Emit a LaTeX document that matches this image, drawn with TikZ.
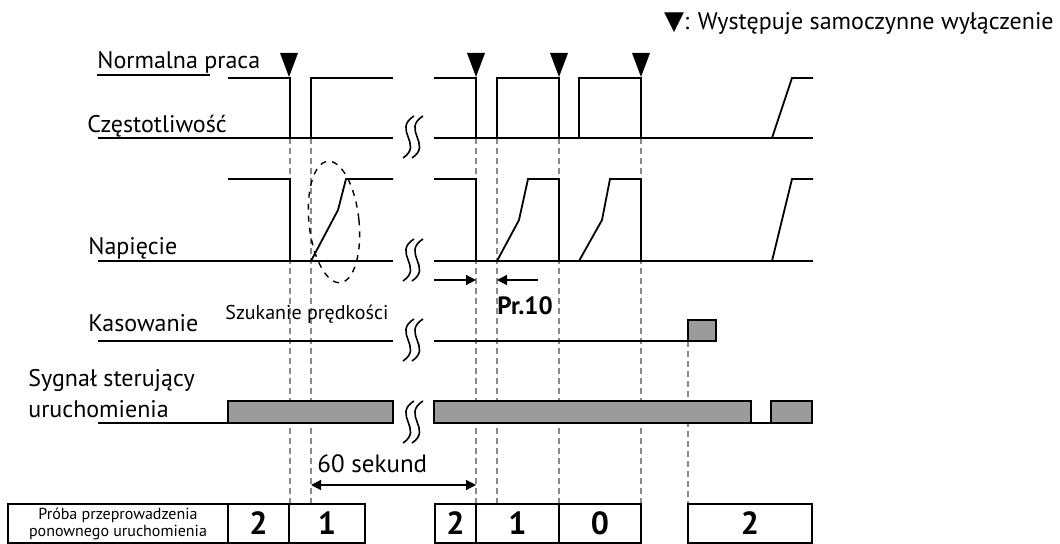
\documentclass[tikz,border=0pt]{standalone}
\usepackage{fontspec}
\setmainfont{PT Sans}
\newfontfamily\symbfont{DejaVu Sans}
\usetikzlibrary{arrows.meta}
\definecolor{boxgray}{HTML}{9B9B9B}
\definecolor{dashgray}{HTML}{8A8A8A}
\tikzstyle{signame} = [anchor=base west, inner sep=0pt, font=\fontsize{12}{14}\selectfont]
\tikzstyle{note} = [anchor=base west, inner sep=0pt, font=\fontsize{10}{12}\selectfont]
\tikzstyle{sig} = [line width=0.9pt]
\tikzstyle{baseln} = [line width=1.3pt]
\tikzstyle{guide} = [dashgray, line width=0.6pt, dash pattern=on 3pt off 2pt]
\tikzstyle{pulse} = [fill=boxgray, draw=black, line width=0.7pt]
\tikzstyle{cell} = [rectangle, draw=black, line width=0.75pt, minimum height=19.5pt, inner sep=0pt, outer sep=0pt, text centered, font=\bfseries\fontsize{16}{18}\selectfont]
\tikzstyle{arrow} = [line width=0.6pt, -{Triangle[length=5pt, width=5pt]}]
\tikzstyle{brk} = [line width=0.8pt]

\begin{document}
\begin{tikzpicture}[x=0.5pt, y=-0.5pt]
		\useasboundingbox (0,0) rectangle (1060,544);
		% guide lines
		\foreach \x in {290,311,476,497,559,641}
			\draw[guide] (\x,138) -- (\x,504);
		\draw[guide] (688,341) -- (688,504);
		% labels
		\node (normal) [signame] at (97,69) {Normalna praca};
		\draw[line width=0.6pt] (97,75) -- (210,75);
		\node (freq) [signame] at (87,133) {Częstotliwość};
		\node (volt) [signame] at (88,255) {Napięcie};
		\node (reset) [signame] at (88,332) {Kasowanie};
		\node (search) [note] at (225,320) {Szukanie prędkości};
		\node (runA) [signame] at (28,387) {Sygnał sterujący};
		\node (runB) [signame] at (28,418) {uruchomienia};
		\node (legend) [signame, anchor=base east] at (1054,30) {{\symbfont\fontsize{13}{14}\selectfont ▼}: Występuje samoczynne wyłączenie};
		% trip marks
		\foreach \x in {289,476,559,641}
			\fill (\x-9,53) -- (\x+9,53) -- (\x,77) -- cycle;
		% frequency
		\draw[baseln] (98,138) -- (393,138);
		\draw[baseln] (434,138) -- (813,138);
		\draw[sig] (228,78) -- (290,78) -- (290,138);
		\draw[sig] (311,138) -- (311,78) -- (393,78);
		\draw[sig] (434,78) -- (476,78) -- (476,138);
		\draw[sig] (497,138) -- (497,78) -- (559,78) -- (559,138);
		\draw[sig] (579,138) -- (579,78) -- (641,78) -- (641,138);
		\draw[sig] (772,138) -- (792,78) -- (813,78);
		% voltage
		\draw[baseln] (98,261) -- (393,261);
		\draw[baseln] (434,261) -- (813,261);
		\draw[sig] (228,179) -- (290,179) -- (290,261);
		\draw[sig] (311,261) -- (338,210) -- (346,179) -- (393,179);
		\draw[sig] (434,179) -- (476,179) -- (476,261);
		\draw[sig] (497,261) -- (519,220) -- (528,179) -- (559,179) -- (559,261);
		\draw[sig] (579,261) -- (602,220) -- (610,179) -- (641,179) -- (641,261);
		\draw[sig] (772,261) -- (792,179) -- (813,179);
		\draw[dashed, line width=0.7pt, rotate around={6:(334,222)}] (334,222) ellipse [x radius=25, y radius=61];
		% reset
		\draw[baseln] (98,341) -- (393,341);
		\draw[baseln] (434,341) -- (688,341);
		\draw[pulse] (688,320) rectangle (716,341);
		% run command
		\draw[baseln] (98,423) -- (393,423);
		\draw[baseln] (434,423) -- (813,423);
		\draw[pulse] (228,401) rectangle (393,423);
		\draw[pulse] (434,401) rectangle (751,423);
		\draw[pulse] (771,401) rectangle (812,423);
		% breaks
		\foreach \y in {138,261,341,423} {
			\draw[brk] (414,\y-22) .. controls (392,\y-8) and (424,\y+6) .. (403,\y+20);
			\draw[brk] (423,\y-22) .. controls (401,\y-8) and (433,\y+6) .. (412,\y+20);
		}
		% Pr.10
		\coordinate (prA) at (434,280);
		\coordinate (prB) at (476,280);
		\coordinate (prC) at (538,280);
		\coordinate (prD) at (497,280);
		\draw[arrow] (prA) -- (prB);
		\draw[arrow] (prC) -- (prD);
		\node (pr) [signame, font=\bfseries\fontsize{12.5}{14}\selectfont] at (497,315) {Pr.10};
		% 60 s
		\coordinate (secA) at (311,485);
		\coordinate (secB) at (476,485);
		\draw[arrow, {Triangle[length=5pt, width=5pt]}-{Triangle[length=5pt, width=5pt]}] (secA) -- (secB);
		\node (sec) [signame, font=\fontsize{12.5}{14}\selectfont] at (317,473) {60 sekund};
		% retry counter
		\node (tries) [cell, minimum width=110pt, font=\fontsize{8}{8.5}\selectfont, align=center] at (118,523.5) {Próba przeprowadzenia\\ponownego uruchomienia};
		\node (c1) [cell, minimum width=30.5pt] at (258.5,523.5) {2};
		\node (c2) [cell, minimum width=38pt] at (327,523.5) {1};
		\node (c3) [cell, minimum width=20.5pt] at (455.5,523.5) {2};
		\node (c4) [cell, minimum width=41.5pt] at (517.5,523.5) {1};
		\node (c5) [cell, minimum width=41pt] at (600,523.5) {0};
		\node (c6) [cell, minimum width=62pt] at (750,523.5) {2};
	\end{tikzpicture}
\end{document}
